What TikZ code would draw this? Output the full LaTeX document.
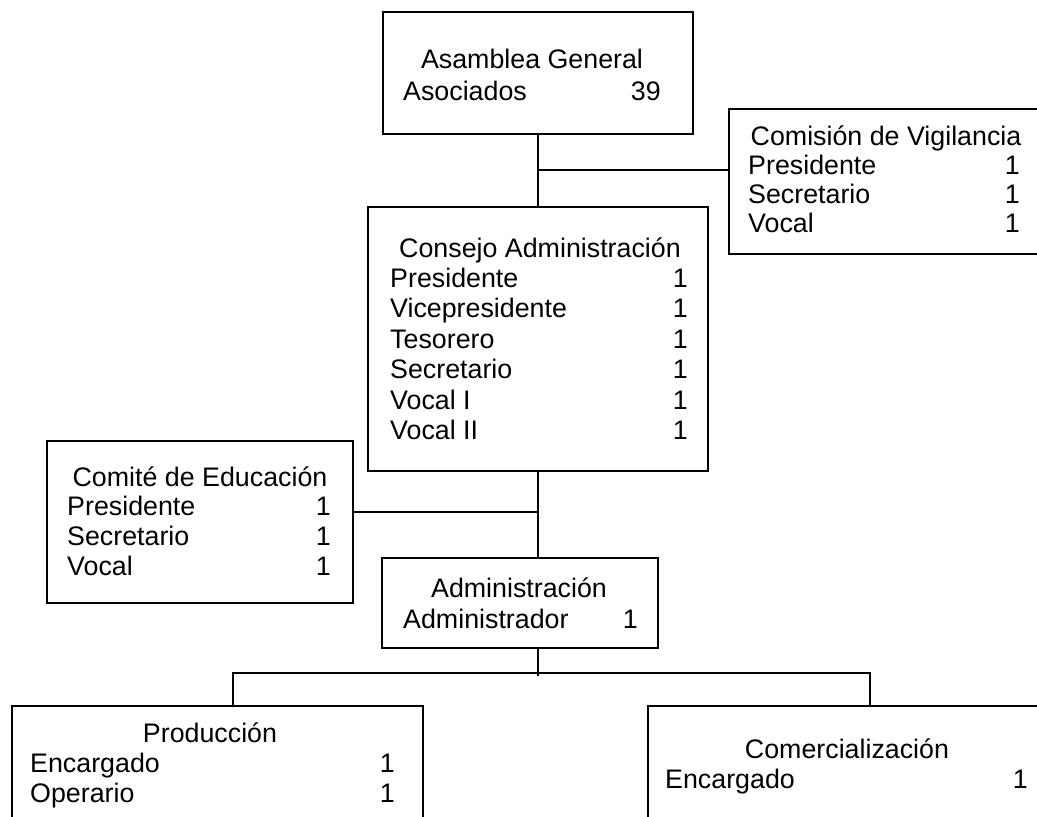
\documentclass[tikz,border=0pt]{standalone}
\usepackage{fontspec}
\setmainfont{Liberation Sans}

\begin{document}
\begin{tikzpicture}[x=1pt, y=-1pt, font=\fontsize{26.8}{30}\selectfont]
\tikzstyle{box} = [draw=black, line width=2.8pt, inner sep=0pt, rectangle]
\tikzstyle{e} = [draw=black, line width=2.8pt]
\tikzstyle{t} = [inner sep=0pt, anchor=base]
\tikzstyle{l} = [inner sep=0pt, anchor=base west]
\tikzstyle{n} = [inner sep=0pt, anchor=base east]

\useasboundingbox (0,0) rectangle (1037,817);
\clip (0,0) rectangle (1037,817);

% cajas
\node[box, minimum width=310, minimum height=122] (asamblea) at (538, 73) {};
\node[box, minimum width=316, minimum height=145] (comision) at (887, 181.5) {};
\node[box, minimum width=340, minimum height=264] (consejo) at (538, 339) {};
\node[box, minimum width=306, minimum height=162] (comite) at (200, 522) {};
\node[box, minimum width=276, minimum height=90] (admin) at (520, 603) {};
\node[box, minimum width=411, minimum height=134] (produccion) at (217.5, 773) {};
\node[box, minimum width=398, minimum height=134] (comercial) at (847, 773) {};

% textos
\node[t] (asamblea-t) at (532, 68) {Asamblea General};
\node[l] (asamblea-l1) at (403, 100) {Asociados};
\node[n] (asamblea-n1) at (661, 100) {39};

\node[t] (comision-t) at (886, 145) {Comisión de Vigilancia};
\node[l] (comision-l1) at (748, 174) {Presidente};
\node[n] (comision-n1) at (1020, 174) {1};
\node[l] (comision-l2) at (748, 203) {Secretario};
\node[n] (comision-n2) at (1020, 203) {1};
\node[l] (comision-l3) at (748, 232) {Vocal};
\node[n] (comision-n3) at (1020, 232) {1};

\node[t] (consejo-t) at (540, 257) {Consejo Administración};
\node[l] (consejo-l1) at (390, 287) {Presidente};
\node[n] (consejo-n1) at (688, 287) {1};
\node[l] (consejo-l2) at (390, 317.5) {Vicepresidente};
\node[n] (consejo-n2) at (688, 317.5) {1};
\node[l] (consejo-l3) at (390, 348) {Tesorero};
\node[n] (consejo-n3) at (688, 348) {1};
\node[l] (consejo-l4) at (390, 378.5) {Secretario};
\node[n] (consejo-n4) at (688, 378.5) {1};
\node[l] (consejo-l5) at (390, 409) {Vocal I};
\node[n] (consejo-n5) at (688, 409) {1};
\node[l] (consejo-l6) at (390, 439.5) {Vocal II};
\node[n] (consejo-n6) at (688, 439.5) {1};

\node[t] (comite-t) at (200, 486) {Comité de Educación};
\node[l] (comite-l1) at (67, 515.5) {Presidente};
\node[n] (comite-n1) at (331, 515.5) {1};
\node[l] (comite-l2) at (67, 545) {Secretario};
\node[n] (comite-n2) at (331, 545) {1};
\node[l] (comite-l3) at (67, 575) {Vocal};
\node[n] (comite-n3) at (331, 575) {1};

\node[t] (admin-t) at (519, 597) {Administración};
\node[l] (admin-l1) at (403, 628) {Administrador};
\node[n] (admin-n1) at (638, 628) {1};

\node[t] (produccion-t) at (210, 742) {Producción};
\node[l] (produccion-l1) at (30, 772) {Encargado};
\node[n] (produccion-n1) at (395, 772) {1};
\node[l] (produccion-l2) at (30, 802) {Operario};
\node[n] (produccion-n2) at (395, 802) {1};

\node[t] (comercial-t) at (847, 758) {Comercialización};
\node[l] (comercial-l1) at (665, 788) {Encargado};
\node[n] (comercial-n1) at (1028, 788) {1};

% lineas
\coordinate (jv) at (538, 170);
\coordinate (je) at (538, 512);
\coordinate (jb) at (538, 676);
\coordinate (lp) at (233, 673);
\coordinate (lc) at (870, 673);

\draw[e] (asamblea.south) -- (consejo.north);
\draw[e] (jv) -- (jv -| comision.west);
\draw[e] (consejo.south) -- (consejo.south |- admin.north);
\draw[e] (comite.east |- je) -- (je);
\draw[e] (jb |- admin.south) -- (jb);
\draw[e] (lp |- produccion.north) -- (lp) -- (lc) -- (lc |- comercial.north);
\end{tikzpicture}
\end{document}
